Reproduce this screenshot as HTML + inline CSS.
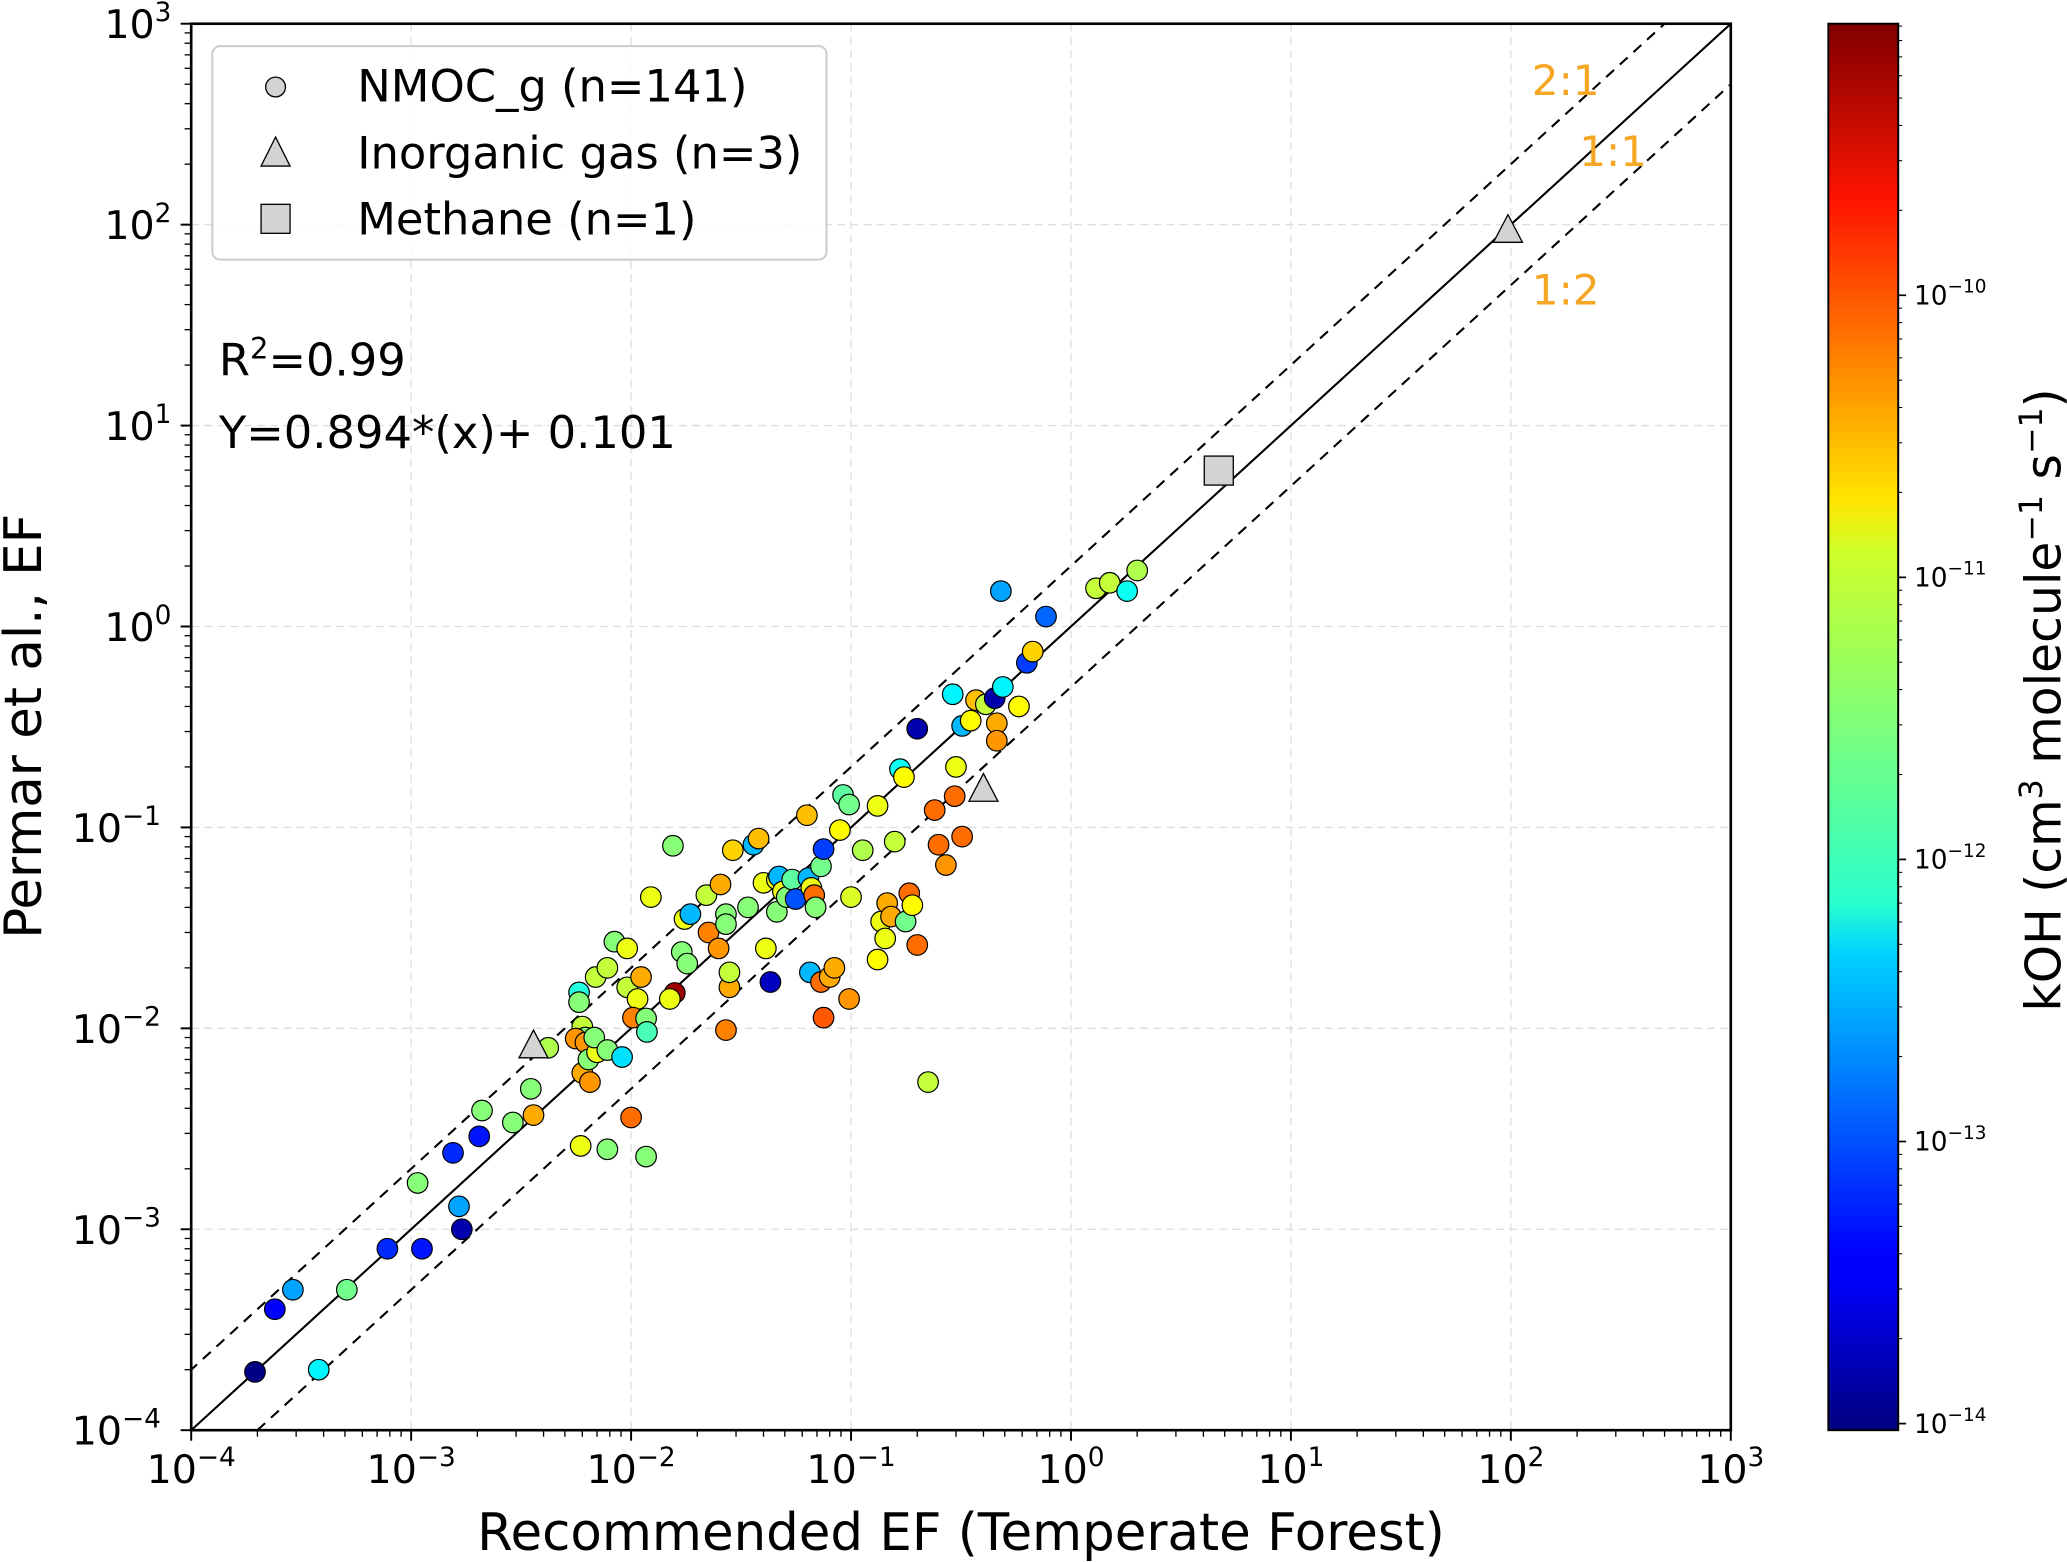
<!DOCTYPE html>
<html><head><meta charset="utf-8">
<style>
html,body{margin:0;padding:0;background:#fff;overflow:hidden;width:2067px;height:1562px;}
svg{display:block;font-family:"DejaVu Sans","Liberation Sans",sans-serif;}
</style></head>
<body>
<svg id="chart" width="2067" height="1562" viewBox="0 0 1568 1185" xmlns="http://www.w3.org/2000/svg">
<defs>
<clipPath id="plotclip"><rect x="145" y="18" width="1168" height="1067"/></clipPath>
<linearGradient id="jetgrad" x1="0" y1="1" x2="0" y2="0">
<stop offset="0" stop-color="#00007f"/>
<stop offset="0.11" stop-color="#0000ff"/>
<stop offset="0.125" stop-color="#0000ff"/>
<stop offset="0.34" stop-color="#00d4ff"/>
<stop offset="0.375" stop-color="#29ffce"/>
<stop offset="0.5" stop-color="#7dff7a"/>
<stop offset="0.625" stop-color="#ceff29"/>
<stop offset="0.66" stop-color="#ffe600"/>
<stop offset="0.875" stop-color="#ff1300"/>
<stop offset="1" stop-color="#7f0000"/>
</linearGradient>
</defs>
<g id="grid"></g>
<g id="refl" clip-path="url(#plotclip)"></g>
<g id="marks" clip-path="url(#plotclip)"></g>
<rect x="145" y="18" width="1168" height="1067" fill="none" stroke="#000" stroke-width="2"/>
<g id="ticks"></g>
<text x="729" y="1176" font-size="39" text-anchor="middle">Recommended EF (Temperate Forest)</text>
<text transform="translate(31,551) rotate(-90)" font-size="39" text-anchor="middle">Permar et al., EF</text>
<g>
<rect x="161" y="35" width="466" height="162" rx="6" fill="#fff" fill-opacity="0.85" stroke="#ccc" stroke-width="1.5"/>
<g><circle cx="209" cy="66" r="7.5" fill="#d3d3d3" stroke="#000" stroke-width="1"/><text x="271" y="77" font-size="34">NMOC_g (n=141)</text></g>
<g><polygon points="209,104 220,126 198,126" fill="#d3d3d3" stroke="#000" stroke-width="1"/><text x="271" y="128" font-size="34">Inorganic gas (n=3)</text></g>
<g><rect x="198" y="155" width="22" height="22" fill="#d3d3d3" stroke="#000" stroke-width="1"/><text x="271" y="178" font-size="34">Methane (n=1)</text></g>
</g>
<text x="166" y="285" font-size="34">R<tspan font-size="22" dy="-13">2</tspan><tspan dy="13">=0.99</tspan></text>
<text x="166" y="340" font-size="34">Y=0.894*(x)+ 0.101</text>
<text x="1162" y="72" font-size="32" fill="#f5a623">2:1</text>
<text x="1198" y="126" font-size="32" fill="#f5a623">1:1</text>
<text x="1162" y="231" font-size="32" fill="#f5a623">1:2</text>
<rect x="1387" y="18" width="53" height="1067" fill="url(#jetgrad)" stroke="#000" stroke-width="1.5"/>
<g id="cbticks"></g>
<text transform="translate(1563,531) rotate(-90)" font-size="37" text-anchor="middle">kOH (cm<tspan font-size="24" dy="-14">3</tspan><tspan dy="14"> molecule</tspan><tspan font-size="24" dy="-14">−1</tspan><tspan dy="14"> s</tspan><tspan font-size="24" dy="-14">−1</tspan><tspan dy="14">)</tspan></text>
</svg>
<script>
const xVals=[1.95e-4,2.4e-4,2.9e-4,3.8e-4,5.1e-4,7.8e-4,1.12e-3,1.07e-3,1.65e-3,1.7e-3,1.55e-3,2.04e-3,2.1e-3,2.9e-3,3.6e-3,3.5e-3,4.2e-3,5.9e-3,7.8e-3,0.0117,0.01,5.8e-3,5.8e-3,6e-3,6.2e-3,5.6e-3,6.2e-3,6e-3,6.5e-3,6.4e-3,7e-3,6.8e-3,7.8e-3,9.1e-3,6.9e-3,7.8e-3,8.4e-3,9.6e-3,9.6e-3,0.0111,0.0107,0.0102,0.0117,0.0118,0.0123,0.0155,0.0158,0.015,0.017,0.0175,0.0186,0.018,0.022,0.0225,0.025,0.0255,0.027,0.027,0.027,0.028,0.028,0.029,0.034,0.036,0.038,0.040,0.041,0.043,0.046,0.046,0.047,0.049,0.051,0.054,0.056,0.063,0.064,0.065,0.066,0.068,0.069,0.073,0.075,0.073,0.075,0.080,0.084,0.089,0.092,0.098,0.098,0.100,0.113,0.132,0.132,0.137,0.143,0.146,0.152,0.158,0.167,0.174,0.177,0.184,0.19,0.20,0.20,0.224,0.24,0.25,0.27,0.29,0.296,0.30,0.32,0.32,0.35,0.37,0.41,0.45,0.46,0.46,0.49,0.48,0.58,0.63,0.67,0.77,1.3,1.5,1.8,2.0];
const yVals=[1.95e-4,4e-4,5e-4,2e-4,5e-4,8e-4,8e-4,1.7e-3,1.3e-3,1e-3,2.4e-3,2.9e-3,3.9e-3,3.4e-3,3.7e-3,5e-3,8e-3,2.6e-3,2.5e-3,2.3e-3,3.6e-3,0.0151,0.0135,0.0102,9e-3,8.9e-3,8.5e-3,6e-3,5.4e-3,7e-3,7.6e-3,9e-3,7.8e-3,7.2e-3,0.018,0.02,0.027,0.025,0.016,0.018,0.014,0.0113,0.0112,0.0096,0.045,0.081,0.015,0.014,0.024,0.035,0.037,0.021,0.046,0.030,0.025,0.052,0.037,0.033,0.0098,0.016,0.019,0.077,0.040,0.082,0.088,0.053,0.025,0.017,0.055,0.038,0.057,0.048,0.045,0.055,0.044,0.115,0.056,0.019,0.050,0.046,0.040,0.064,0.078,0.017,0.0113,0.018,0.020,0.097,0.145,0.130,0.014,0.045,0.077,0.128,0.022,0.034,0.028,0.042,0.036,0.085,0.195,0.178,0.034,0.047,0.041,0.026,0.31,0.0054,0.122,0.082,0.065,0.46,0.143,0.20,0.090,0.32,0.34,0.43,0.41,0.44,0.33,0.27,0.50,1.5,0.40,0.66,0.75,1.12,1.55,1.65,1.5,1.9];
const kOH=[-14,-13.4,-12.6,-12.2,-11.6,-13.2,-13.3,-11.5,-12.6,-13.8,-13.2,-13.3,-11.5,-11.5,-10.5,-11.5,-11.3,-11.0,-11.5,-11.5,-10.2,-12.0,-11.5,-11.2,-11.5,-10.4,-10.4,-10.5,-10.4,-11.5,-11.0,-11.5,-11.5,-12.3,-11.2,-11.2,-11.5,-11.0,-11.2,-10.5,-11.0,-10.3,-11.5,-11.8,-11.0,-11.5,-9.2,-11.0,-11.5,-11.0,-12.5,-11.5,-11.2,-10.3,-10.4,-10.5,-11.5,-11.5,-10.3,-10.5,-11.2,-10.7,-11.5,-12.5,-10.6,-11.0,-11.0,-13.7,-11.0,-11.5,-12.5,-11.0,-11.5,-11.7,-13.0,-10.6,-12.5,-12.5,-11.0,-10.2,-11.5,-11.6,-13.1,-10.2,-10.1,-10.5,-10.5,-10.9,-11.7,-11.6,-10.4,-11.1,-11.3,-11.0,-10.9,-11.0,-11.0,-10.5,-10.5,-11.2,-12.1,-10.9,-11.6,-10.2,-10.9,-10.2,-13.8,-11.2,-10.2,-10.2,-10.4,-12.2,-10.2,-11.0,-10.2,-12.5,-10.9,-10.6,-11.2,-13.8,-10.5,-10.4,-12.2,-12.6,-10.9,-13.1,-10.7,-12.9,-11.2,-11.2,-12.1,-11.3];
const triX=[3.6e-3,0.40,97];
const triY=[8.3e-3,0.157,95];
const sqX=[4.7];
const sqY=[5.97];
const decades=[-4,-3,-2,-1,0,1,2,3];
const cbDecades=[-14,-13,-12,-11,-10];

const NS="http://www.w3.org/2000/svg";
function xs(v){return 145+(Math.log10(v)+4)*1168/7;}
function ys(v){return 1085-(Math.log10(v)+4)*1067/7;}
function cby(k){return 1080-(k+14)*214;}
function mk(tag,attrs,parent){const e=document.createElementNS(NS,tag);for(const a in attrs)e.setAttribute(a,attrs[a]);parent.appendChild(e);return e;}
function jet(k){let t=(k+14.02)/4.97;t=Math.max(0,Math.min(1,t));
 const c=x=>Math.round(255*Math.max(0,Math.min(1,x)));
 return `rgb(${c(1.5-Math.abs(4*t-3))},${c(1.5-Math.abs(4*t-2))},${c(1.5-Math.abs(4*t-1))})`;}

const grid=document.getElementById('grid'),ticks=document.getElementById('ticks');
decades.forEach(d=>{
 const v=Math.pow(10,d),x=xs(v),y=ys(v);
 if(d>-4&&d<3){
  const gx=mk('line',{x1:x,y1:18,x2:x,y2:1085,stroke:'#ddd','stroke-width':1,'stroke-dasharray':'6,4'},grid);
  
  
  const gy=mk('line',{x1:145,y1:y,x2:1313,y2:y,stroke:'#ddd','stroke-width':1,'stroke-dasharray':'6,4'},grid);
  
  
 }
 mk('line',{x1:x,y1:1085,x2:x,y2:1093,stroke:'#000','stroke-width':1.5},ticks);
 mk('line',{x1:137,y1:y,x2:145,y2:y,stroke:'#000','stroke-width':1.5},ticks);
 for(let m=2;m<10&&d<3;m++){
  mk('line',{x1:xs(m*v),y1:1085,x2:xs(m*v),y2:1090,stroke:'#000','stroke-width':1},ticks);
  mk('line',{x1:140,y1:ys(m*v),x2:145,y2:ys(m*v),stroke:'#000','stroke-width':1},ticks);
 }
 const xl=mk('text',{x:x,y:1125,'font-size':30,'text-anchor':'middle'},ticks);
 
 
 xl.innerHTML='10<tspan font-size="20" dy="-13">'+(d<0?'−'+(-d):d)+'</tspan>';
 const yl=mk('text',{x:130,y:y+11,'font-size':30,'text-anchor':'end'},ticks);
 
 
 yl.innerHTML='10<tspan font-size="20" dy="-13">'+(d<0?'−'+(-d):d)+'</tspan>';
 if(d<0){yl.setAttribute('x',122);}
});

const refl=document.getElementById('refl');
[[1,'none','1-to-1-line'],[2,'8,6','2-to-1-line'],[0.5,'8,6','1-to-2-line']].forEach(r=>{
 const l=mk('line',{x1:xs(1e-5),y1:ys(1e-5*r[0]),x2:xs(1e4),y2:ys(1e4*r[0]),stroke:'#000','stroke-width':1.6,'stroke-dasharray':r[1]},refl);
 
 
});

const marks=document.getElementById('marks');
xVals.forEach((xv,i)=>{
 const c=mk('circle',{cx:xs(xv),cy:ys(yVals[i]),r:7.8,fill:jet(kOH[i]),stroke:'#000','stroke-width':0.9},marks);
 
 
});
triX.forEach((xv,i)=>{
 const x=xs(xv),y=ys(triY[i]);
 const t=mk('polygon',{points:`${x},${y-11} ${x+11},${y+10} ${x-11},${y+10}`,fill:'#d3d3d3',stroke:'#000','stroke-width':1},marks);
 
 
});
sqX.forEach((xv,i)=>{
 const x=xs(xv),y=ys(sqY[i]);
 const s=mk('rect',{x:x-11,y:y-11,width:22,height:22,fill:'#d3d3d3',stroke:'#000','stroke-width':1},marks);
 
 
});

const cbt=document.getElementById('cbticks');
cbDecades.forEach(k=>{
 const y=cby(k);
 mk('line',{x1:1440,y1:y,x2:1446,y2:y,stroke:'#000','stroke-width':1.3},cbt);
 for(let m=2;m<10;m++){const yy=cby(k+Math.log10(m));if(yy>18)mk('line',{x1:1440,y1:yy,x2:1443,y2:yy,stroke:'#000','stroke-width':0.8},cbt);}
 const t=mk('text',{x:1452,y:y+7,'font-size':20},cbt);
 
 
 t.innerHTML='10<tspan font-size="14" dy="-9">−'+(-k)+'</tspan>';
});
</script>
</body></html>
